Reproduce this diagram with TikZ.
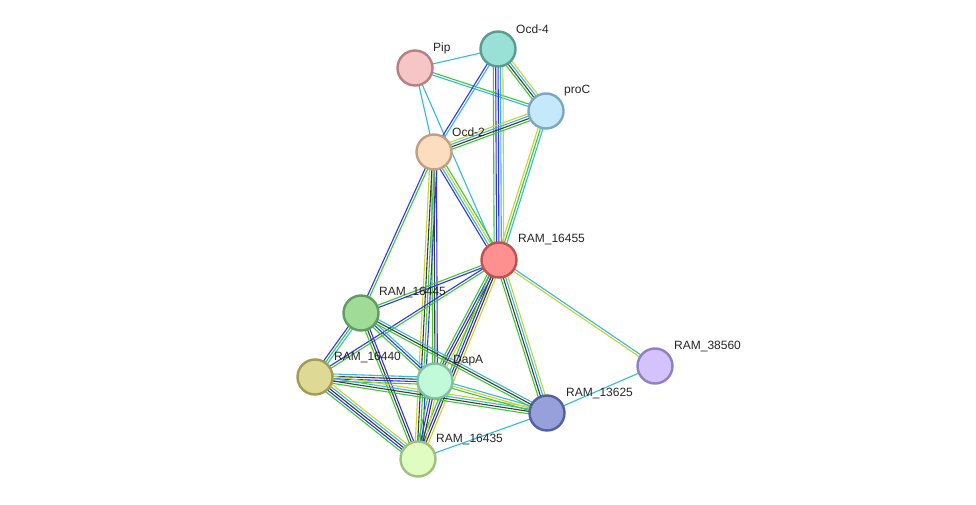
\documentclass[tikz,border=0pt]{standalone}
\usepackage{fontspec}
\setmainfont{Liberation Sans}
\usetikzlibrary{calc,backgrounds}
\definecolor{evnbr}{RGB}{60,200,50}
\definecolor{evcoo}{RGB}{50,50,240}
\definecolor{evcox}{RGB}{60,60,60}
\definecolor{evdb}{RGB}{50,185,220}
\definecolor{evtxt}{RGB}{200,210,50}

% one protein-protein link: a bundle of parallel lines, one per evidence colour
\newcommand\evlink[3]{%
  \foreach \c [count=\i] in {#3}{\xdef\nlines{\i}}%
  \foreach \c [count=\i] in {#3}{%
    \pgfmathsetmacro\off{(\i-(\nlines+1)/2)*2.4}%
    \draw[evline, \c] ($(#1)!\off pt!90:(#2)$) -- ($(#2)!\off pt!-90:(#1)$);}}

\begin{document}
\begin{tikzpicture}[x=1pt, y=-1pt,
  prot/.style={draw, circle, minimum size=35pt, inner sep=0pt, line width=2.4pt},
  lbl/.style={font=\fontsize{12}{14}\selectfont, text=black!85, anchor=west, inner sep=1pt},
  evline/.style={line width=1.1pt},
]
\useasboundingbox (0,0) rectangle (976,505);
% proteins
\node[prot, fill={rgb,255:red,153;green,224;blue,214}, draw={rgb,255:red,90;green,155;blue,145}] (ocd4) at (498,49) {};
\node[prot, fill={rgb,255:red,246;green,198;blue,198}, draw={rgb,255:red,180;green,128;blue,128}] (pip) at (415,68) {};
\node[prot, fill={rgb,255:red,197;green,232;blue,250}, draw={rgb,255:red,122;green,168;blue,192}] (proc) at (546,111) {};
\node[prot, fill={rgb,255:red,253;green,221;blue,192}, draw={rgb,255:red,192;green,160;blue,128}] (ocd2) at (434,152) {};
\node[prot, fill={rgb,255:red,255;green,144;blue,144}, draw={rgb,255:red,192;green,80;blue,80}] (r455) at (499,260) {};
\node[prot, fill={rgb,255:red,160;green,220;blue,152}, draw={rgb,255:red,96;green,155;blue,96}] (r445) at (361,313) {};
\node[prot, fill={rgb,255:red,222;green,218;blue,150}, draw={rgb,255:red,160;green,156;blue,80}] (r440) at (315,377) {};
\node[prot, fill={rgb,255:red,192;green,250;blue,216}, draw={rgb,255:red,128;green,192;blue,160}] (dapa) at (435,381) {};
\node[prot, fill={rgb,255:red,152;green,160;blue,220}, draw={rgb,255:red,80;green,96;blue,160}] (r625) at (547,413) {};
\node[prot, fill={rgb,255:red,212;green,194;blue,252}, draw={rgb,255:red,144;green,128;blue,192}] (r560) at (655,366) {};
\node[prot, fill={rgb,255:red,224;green,252;blue,192}, draw={rgb,255:red,160;green,192;blue,128}] (r435) at (418,459) {};
% names
\node[lbl] at ([shift={(17,-20)}]ocd4.center) {Ocd-4};
\node[lbl] at ([shift={(17,-20)}]pip.center) {Pip};
\node[lbl] at ([shift={(17,-20)}]proc.center) {proC};
\node[lbl] at ([shift={(17,-20)}]ocd2.center) {Ocd-2};
\node[lbl] at ([shift={(18,-20)}]r455.center) {RAM\_16455};
\node[lbl] at ([shift={(17,-20)}]r445.center) {RAM\_16445};
\node[lbl] at ([shift={(18,-20)}]r440.center) {RAM\_16440};
\node[lbl] at ([shift={(17,-20)}]dapa.center) {DapA};
\node[lbl] at ([shift={(18,-20)}]r625.center) {RAM\_13625};
\node[lbl] at ([shift={(18,-20)}]r560.center) {RAM\_38560};
\node[lbl] at ([shift={(17,-20)}]r435.center) {RAM\_16435};
% links
\begin{scope}[on background layer]
\evlink{pip}{ocd4}{evdb}
\evlink{pip}{proc}{evdb,evnbr}
\evlink{pip}{ocd2}{evdb}
\evlink{pip}{r455}{evdb}
\evlink{ocd4}{ocd2}{evcoo,evdb}
\evlink{ocd4}{proc}{evnbr,evcox,evdb,evtxt}
\evlink{ocd4}{r455}{evnbr,evcoo,evcoo,evdb,evtxt}
\evlink{proc}{ocd2}{evtxt,evdb,evcox,evnbr}
\evlink{proc}{r455}{evtxt,evnbr,evdb}
\evlink{ocd2}{r455}{evcoo,evdb,evtxt,evnbr}
\evlink{ocd2}{r445}{evcoo,evnbr}
\evlink{ocd2}{dapa}{evnbr,evcox,evcoo}
\evlink{ocd2}{r435}{evtxt,evcox,evnbr,evcoo}
\evlink{r455}{r445}{evnbr,evcoo}
\evlink{r455}{r440}{evcoo,evnbr}
\evlink{r455}{dapa}{evnbr,evcoo,evcox,evtxt}
\evlink{r455}{r435}{evnbr,evcoo,evcox,evtxt}
\evlink{r455}{r625}{evnbr,evcox,evdb,evtxt}
\evlink{r455}{r560}{evtxt,evdb}
\evlink{r560}{r625}{evdb}
\evlink{r625}{r435}{evdb}
\evlink{r445}{r440}{evcoo,evnbr,evdb}
\evlink{r445}{dapa}{evnbr,evcoo,evdb}
\evlink{r445}{r435}{evnbr,evcox,evcoo}
\evlink{r445}{r625}{evnbr,evcox,evdb}
\evlink{r440}{dapa}{evnbr,evcoo,evcox,evdb}
\evlink{r440}{r625}{evnbr,evcox,evdb,evtxt}
\evlink{r440}{r435}{evnbr,evcoo,evcox,evdb,evtxt}
\evlink{dapa}{r435}{evnbr,evcoo,evcox,evtxt}
\evlink{dapa}{r625}{evnbr,evtxt,evdb}
\end{scope}
\end{tikzpicture}
\end{document}
